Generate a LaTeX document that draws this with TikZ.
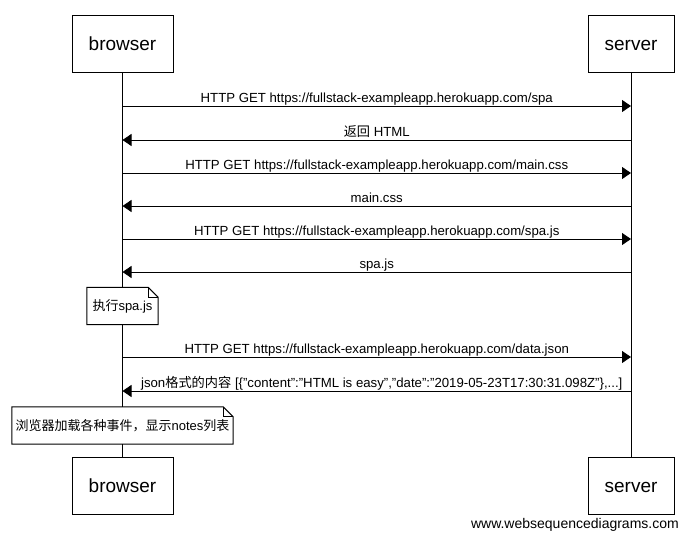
\documentclass[tikz,border=0pt]{standalone}
\usepackage{fontspec}
\setmainfont{Liberation Sans}
\newfontfamily\cjk{Noto Sans CJK SC}
\usetikzlibrary{calc,arrows.meta}
\tikzset{
	actor/.style={draw, line width=1pt, fill=white, minimum height=57pt, inner sep=0pt, text height=14pt, text depth=0pt, font=\fontsize{19}{22}\selectfont},
	lifeline/.style={line width=1pt},
	msg/.style={-{Triangle[length=9pt,width=12pt]}, line width=1pt},
	msglabel/.style={anchor=base, yshift=4pt, inner sep=0pt, font=\fontsize{13.2}{15}\selectfont},
	notetext/.style={fill=white, inner sep=0pt, minimum height=37pt, font=\fontsize{13}{15}\selectfont},
	notebox/.style={line width=1pt},
}

\begin{document}
\begin{tikzpicture}[x=1pt, y=-1pt]
			%%%%% START %%%%%
			\useasboundingbox (0, 0) rectangle (689, 538);
			
			\node[actor, minimum width=101pt] (bt) at (122.5, 43.5) {browser};
			\node[actor, minimum width=86pt] (st) at (631, 43.5) {server};
			\node[actor, minimum width=101pt] (bb) at (122.5, 485.5) {browser};
			\node[actor, minimum width=86pt] (sb) at (631, 485.5) {server};
			
			\draw[lifeline] (bt.south) -- (bb.north);
			\draw[lifeline] (st.south) -- (sb.north);
			
			\foreach \y [count=\i] in {106, 140, 173, 206, 239, 272, 357, 391} {
				\coordinate (b\i) at (122.5, \y);
				\coordinate (s\i) at (631, \y);
			}
			
			\draw[msg] (b1) -- node[msglabel] (l1) {HTTP GET https://fullstack-exampleapp.herokuapp.com/spa} (s1);
			\draw[msg] (s2) -- node[msglabel] (l2) {{\cjk 返回} HTML} (b2);
			\draw[msg] (b3) -- node[msglabel] (l3) {HTTP GET https://fullstack-exampleapp.herokuapp.com/main.css} (s3);
			\draw[msg] (s4) -- node[msglabel] (l4) {main.css} (b4);
			\draw[msg] (b5) -- node[msglabel] (l5) {HTTP GET https://fullstack-exampleapp.herokuapp.com/spa.js} (s5);
			\draw[msg] (s6) -- node[msglabel] (l6) {spa.js} (b6);
			
			\node[notetext, minimum width=71pt] (n1) at (122.5, 306) {{\cjk 执行}spa.js};
			\draw[notebox] (n1.north west) -- ($(n1.north east)+(-10,0)$) -- ($(n1.north east)+(0,10)$) -- (n1.south east) -- (n1.south west) -- cycle;
			\draw[notebox] ($(n1.north east)+(-10,0)$) |- ($(n1.north east)+(0,10)$);
			
			\draw[msg] (b7) -- node[msglabel] (l7) {HTTP GET https://fullstack-exampleapp.herokuapp.com/data.json} (s7);
			\draw[msg] (s8) -- node[msglabel, xshift=5pt] (l8) {json{\cjk 格式的内容} [\{"content":"HTML is easy","date":"2019-05-23T17:30:31.098Z"\},...]} (b8);
			
			\node[notetext, minimum width=221pt] (n2) at (122.5, 425.5) {{\cjk 浏览器加载各种事件，显示}notes{\cjk 列表}};
			\draw[notebox] (n2.north west) -- ($(n2.north east)+(-10,0)$) -- ($(n2.north east)+(0,10)$) -- (n2.south east) -- (n2.south west) -- cycle;
			\draw[notebox] ($(n2.north east)+(-10,0)$) |- ($(n2.north east)+(0,10)$);
			
			\node[anchor=base east, inner sep=0pt, font=\fontsize{14}{16}\selectfont] (wm) at (679, 528) {www.websequencediagrams.com};
			
			%%%%% END %%%%%
\end{tikzpicture}
\end{document}
